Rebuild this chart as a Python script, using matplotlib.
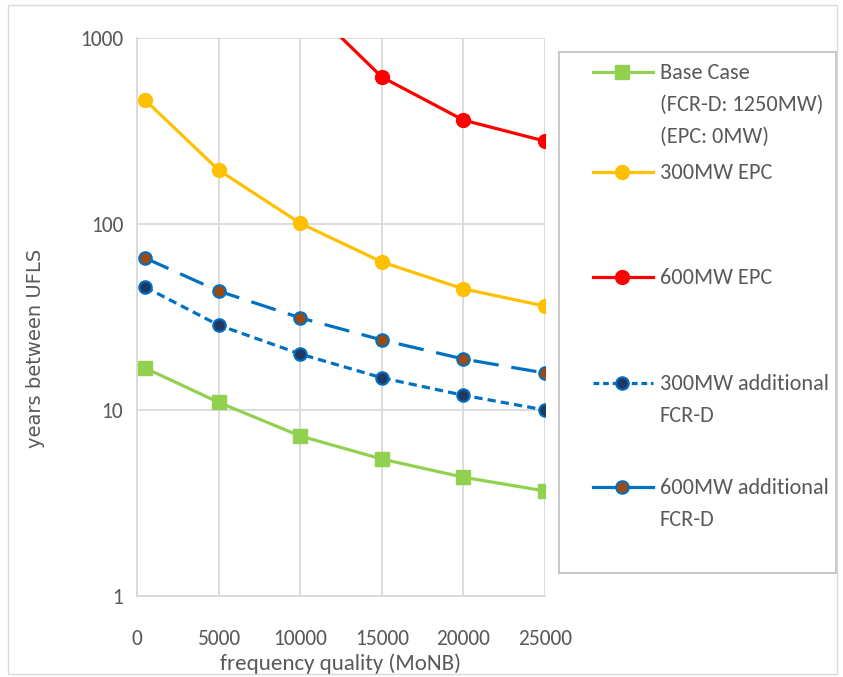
import matplotlib
matplotlib.use("Agg")
import matplotlib.pyplot as plt
from matplotlib.patches import Rectangle
from matplotlib import font_manager as fm
import numpy as np

# ---- data ----
x_vals = [500, 5000, 10000, 15000, 20000, 25000]
base_case = [16.8, 11.0, 7.25, 5.45, 4.35, 3.67]
epc_300 = [464, 195, 101, 62.5, 44.8, 36.2]
epc_600 = [np.nan, np.nan, 1650, 617, 362, 279]
fcrd_300 = [45.8, 28.6, 20.0, 14.9, 12.0, 10.0]
fcrd_600 = [65.6, 43.6, 31.3, 23.8, 18.8, 15.8]
x_ticks = [0, 5000, 10000, 15000, 20000, 25000]
y_ticks = [1, 10, 100, 1000]
legend_labels = ["Base Case\n(FCR-D: 1250MW)\n(EPC: 0MW)", "300MW EPC", "600MW EPC",
                 "300MW additional\nFCR-D", "600MW additional\nFCR-D"]

installed = {f.name for f in fm.fontManager.ttflist}
candidates = ["Carlito", "Liberation Sans Narrow", "Roboto Condensed", "Open Sans Condensed",
              "PT Sans Narrow", "Archivo Narrow", "Encode Sans Condensed", "Fira Sans Condensed",
              "IBM Plex Sans Condensed", "Barlow Semi Condensed"]
narrow_font = next((c for c in candidates if c in installed), "Liberation Sans")
NARROW = [narrow_font, "DejaVu Sans"]
is_carlito = narrow_font == "Carlito"

W, H = 843, 677
fig = plt.figure(figsize=(W / 100, H / 100), dpi=100)
TXT = "#595959"
GRID = "#D9D9D9"

def fx(px):
    return px / W

def fy(py):
    return 1 - py / H

fig.patches.append(Rectangle((fx(8), fy(674)), fx(837) - fx(8), fy(5) - fy(674),
                             transform=fig.transFigure, fill=False, edgecolor=GRID, lw=1.0))

TICKFS = 15.5 if is_carlito else 13
ax = fig.add_axes([fx(137), fy(596), fx(545) - fx(137), fy(38) - fy(596)])
ax.set_yscale("log")
ax.set_xlim(0, 25000)
ax.set_ylim(1, 1000)
ax.set_xticks(x_ticks)
ax.set_yticks(y_ticks)
ax.set_xticklabels([str(v) for v in x_ticks], family=NARROW, fontsize=TICKFS, color=TXT)
ax.set_yticklabels([str(v) for v in y_ticks], family=NARROW, fontsize=TICKFS, color=TXT)
ax.minorticks_off()
ax.tick_params(axis="both", length=0)
ax.tick_params(axis="x", pad=24)
ax.tick_params(axis="y", pad=10)
ax.grid(True, color=GRID, lw=1.3)
for s in ["top", "right"]:
    ax.spines[s].set_visible(False)
for s in ["left", "bottom"]:
    ax.spines[s].set_color(GRID)
    ax.spines[s].set_linewidth(1.3)
ax.set_axisbelow(True)

ax.set_xlabel("frequency quality (MoNB)", family=NARROW, fontsize=TICKFS + 1, color=TXT, labelpad=3)
ax.set_ylabel("years between UFLS", family="DejaVu Sans", fontsize=14, color=TXT)
ax.yaxis.set_label_coords(-0.226, 0.443)

LW = 2.3
SHORT = (0, (2.6, 1.6))
styles = [
    dict(color="#92D050", marker="s", ms=10, mfc="#92D050", mec="#92D050", ls="-"),
    dict(color="#FFC000", marker="o", ms=10, mfc="#FFC000", mec="#FFC000", ls="-"),
    dict(color="#FF0000", marker="o", ms=10, mfc="#FF0000", mec="#FF0000", ls="-"),
    dict(color="#0070C0", marker="o", ms=9, mfc="#203864", mec="#0070C0", mew=1.5, ls=SHORT),
    dict(color="#0070C0", marker="o", ms=9, mfc="#9C4A0F", mec="#0070C0", mew=1.5, ls=(0, (8, 4))),
]
series = [base_case, epc_300, epc_600, fcrd_300, fcrd_600]
for ys, st in zip(series, styles):
    ax.plot(x_vals, ys, lw=LW, clip_on=True, **st)

# ---- legend box ----
lax = fig.add_axes([fx(559), fy(573), fx(836) - fx(559), fy(52) - fy(573)])
lax.set_xlim(559, 836)
lax.set_ylim(573, 52)
lax.set_xticks([])
lax.set_yticks([])
for s in lax.spines.values():
    s.set_color("#BFBFBF")
    s.set_linewidth(1.2)
LEGFS = 16 if is_carlito else 13.5
entry_y = [72, 172, 277, 383, 487]
for yy, lab, st in zip(entry_y, legend_labels, styles):
    ls = (0, (1.8, 1.2)) if st["ls"] == SHORT else "-"
    lax.plot([593, 653], [yy, yy], lw=LW, color=st["color"], ls=ls)
    lax.plot([622], [yy], lw=0, marker=st["marker"], ms=st["ms"], mfc=st["mfc"], mec=st["mec"],
             mew=st.get("mew", 1.0))
    lax.text(660, yy - 9, lab, family=NARROW, fontsize=LEGFS, color=TXT, va="top", ha="left",
             linespacing=1.75)

fig.savefig("out.png", dpi=100)
